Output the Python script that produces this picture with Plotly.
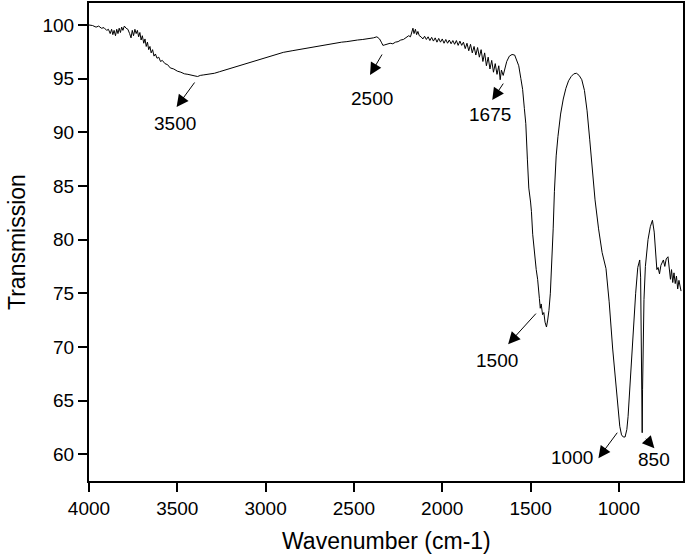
import plotly.graph_objects as go

wavenumber = [
    4000, 3980, 3960, 3945, 3930, 3915, 3900, 3890, 3880, 3872, 3865, 3858, 3850, 3843, 3836, 3829,
    3822, 3815, 3808, 3800, 3790, 3780, 3770, 3762, 3755, 3748, 3740, 3733, 3726, 3719, 3712, 3705,
    3698, 3690, 3683, 3676, 3669, 3662, 3655, 3648, 3640, 3632, 3624, 3615, 3605, 3595, 3585, 3570,
    3555, 3540, 3520, 3500, 3480, 3460, 3440, 3420, 3400, 3385, 3370, 3350, 3320, 3290, 3260, 3230,
    3200, 3160, 3120, 3080, 3040, 3000, 2950, 2900, 2850, 2800, 2750, 2700, 2650, 2600, 2570, 2540,
    2510, 2480, 2450, 2420, 2390, 2370, 2355, 2345, 2336, 2325, 2310, 2295, 2280, 2265, 2250, 2235,
    2220, 2205, 2190, 2180, 2172, 2166, 2160, 2152, 2145, 2138, 2130, 2120, 2110, 2100, 2090, 2080,
    2070, 2060, 2050, 2040, 2030, 2020, 2010, 2000, 1990, 1980, 1970, 1960, 1950, 1940, 1930, 1920,
    1910, 1900, 1890, 1880, 1870, 1860, 1850, 1840, 1830, 1820, 1810, 1800, 1790, 1780, 1770, 1760,
    1750, 1740, 1730, 1720, 1710, 1700, 1690, 1680, 1672, 1665, 1655, 1645, 1635, 1620, 1605, 1590,
    1578, 1567, 1555, 1545, 1535, 1527, 1518, 1510, 1500, 1495, 1488, 1482, 1475, 1468, 1460, 1455,
    1450, 1445, 1440, 1432, 1425, 1418, 1410, 1403, 1396, 1388, 1380, 1372, 1365, 1355, 1345, 1330,
    1315, 1300, 1285, 1270, 1255, 1240, 1225, 1210, 1195, 1180, 1165, 1150, 1135, 1115, 1095, 1073,
    1055, 1035, 1020, 1005, 995, 985, 975, 965, 955, 948, 935, 920, 905, 893, 882, 877,
    873, 870, 868, 866, 862, 858, 850, 835, 822, 810, 800, 792, 785, 778, 770, 762,
    755, 748, 740, 732, 722, 715, 708, 702, 695, 688, 681, 674, 667, 660, 652, 648,
]
transmission = [
    100.0, 99.95, 99.8, 99.9, 99.7, 99.75, 99.5, 99.6, 99.2, 99.6, 99.1, 99.5, 99.0, 99.6, 99.2, 99.7,
    99.3, 99.8, 99.5, 99.9, 99.7, 99.6, 99.2, 98.8, 99.5, 99.0, 99.6, 99.2, 99.5, 98.9, 99.3, 98.6,
    99.0, 98.3, 98.7, 98.0, 98.4, 97.7, 98.0, 97.4, 97.7, 97.1, 97.3, 96.9, 97.0, 96.6, 96.7, 96.4,
    96.3, 96.0, 95.9, 95.7, 95.6, 95.45, 95.4, 95.3, 95.25, 95.2, 95.3, 95.35, 95.4, 95.5, 95.65, 95.8,
    95.95, 96.15, 96.4, 96.6, 96.8, 96.95, 97.25, 97.45, 97.6, 97.75, 97.9, 98.05, 98.2, 98.3, 98.4, 98.45,
    98.55, 98.6, 98.65, 98.7, 98.8, 98.9, 98.7, 98.4, 98.1, 98.15, 98.2, 98.3, 98.25, 98.4, 98.45, 98.6,
    98.65, 98.8, 99.0, 98.9, 99.3, 99.7, 99.2, 99.6, 99.1, 99.4, 99.0, 98.9, 98.7, 98.95, 98.65, 98.9,
    98.55, 98.85, 98.5, 98.8, 98.4, 98.75, 98.4, 98.7, 98.3, 98.65, 98.3, 98.6, 98.25, 98.55, 98.2, 98.55,
    98.1, 98.5, 98.1, 98.4, 97.8, 98.3, 97.6, 98.2, 97.4, 98.0, 97.2, 97.9, 97.0, 97.7, 96.6, 97.4,
    96.2, 97.0, 95.9, 96.7, 95.6, 96.4, 95.4, 96.2, 94.9, 95.8, 95.3, 96.1, 96.6, 97.1, 97.25, 97.2,
    96.7, 96.2, 95.0, 94.0, 92.2, 90.8, 87.5, 84.8, 83.5, 82.6, 80.5, 79.3, 78.6, 77.2, 76.3, 75.0,
    74.5, 73.6, 74.0, 73.0, 73.2, 72.3, 71.85, 72.5, 73.4, 75.0, 77.4, 81.0, 84.5, 87.8, 89.6, 91.7,
    93.1, 94.1, 94.8, 95.2, 95.45, 95.5, 95.3, 94.9, 93.9, 92.0, 89.3, 86.5, 83.7, 81.0, 78.8, 77.3,
    74.2, 69.8, 67.0, 64.5, 62.6, 61.8, 61.6, 61.6, 62.3, 63.5, 67.0, 71.3, 75.0, 77.4, 78.1, 76.5,
    70.0, 63.0, 62.0, 66.0, 71.0, 74.4, 77.5, 80.0, 81.2, 81.8, 80.7, 78.5, 77.2, 77.4, 76.8, 77.6,
    77.9, 78.1, 77.5, 78.2, 78.4, 77.5, 76.3, 77.2, 76.0, 76.9, 75.9, 76.6, 75.4, 76.2, 75.5, 75.2,
]

x_ticks = [4000, 3500, 3000, 2500, 2000, 1500, 1000]
y_ticks = [60, 65, 70, 75, 80, 85, 90, 95, 100]

band_labels = ["3500", "2500", "1675", "1500", "1000", "850"]
x_title = "Wavenumber (cm-1)"
y_title = "Transmission"

FONT = "Liberation Sans, Arial, sans-serif"

fig = go.Figure()
fig.add_trace(go.Scatter(
    x=wavenumber, y=transmission, mode="lines",
    line=dict(color="black", width=1), showlegend=False, hoverinfo="skip",
))

# arrow tails (near the curve), arrow heads, text centres  (data coordinates)
arrow_geom = [
    ((3396, 94.78), (3504, 92.35), (3515, 90.86)),
    ((2336, 97.39), (2409, 95.34), (2398, 93.19)),
    ((1649, 94.68), (1717, 93.0), (1729, 91.7)),
    ((1462, 73.24), (1627, 70.25), (1689, 68.7)),
    ((1003, 62.14), (1116, 59.63), (1264, 59.7)),
    ((855, 61.58), (799, 60.56), (804, 59.53)),
]

annotations = []
for label, (tail, head, txt) in zip(band_labels, arrow_geom):
    annotations.append(dict(
        x=head[0], y=head[1], ax=tail[0], ay=tail[1], xref="x", yref="y",
        axref="x", ayref="y", text="", showarrow=True, arrowhead=2,
        arrowsize=2.4, arrowwidth=1, arrowcolor="black", standoff=0,
    ))
    annotations.append(dict(
        x=txt[0], y=txt[1], xref="x", yref="y", text=label, showarrow=False,
        font=dict(family=FONT, size=19, color="black"),
        xanchor="center", yanchor="middle",
    ))

annotations.append(dict(
    x=0.5, y=-0.1255, xref="paper", yref="paper", text=x_title, showarrow=False,
    font=dict(family=FONT, size=23, color="black"), xanchor="center", yanchor="middle",
))
annotations.append(dict(
    x=-0.1212, y=0.5, xref="paper", yref="paper", text=y_title, showarrow=False,
    textangle=-90, font=dict(family=FONT, size=23, color="black"),
    xanchor="center", yanchor="middle",
))

fig.update_layout(
    width=685, height=559,
    margin=dict(l=89, r=2, t=3, b=78),
    paper_bgcolor="white", plot_bgcolor="white",
    font=dict(family=FONT, size=19, color="black"),
    annotations=annotations,
    hovermode=False,
    xaxis=dict(
        range=[4000, 637], tickvals=x_ticks, ticktext=[str(v) for v in x_ticks],
        ticks="outside", ticklen=9, tickwidth=1.5, tickcolor="black",
        showline=True, linecolor="black", linewidth=2, mirror=True,
        showgrid=False, zeroline=False, automargin=False, fixedrange=True,
        tickfont=dict(family=FONT, size=19, color="black"),
    ),
    yaxis=dict(
        range=[57.5, 102.05], tickvals=y_ticks, ticktext=[str(v) for v in y_ticks],
        ticks="outside", ticklen=9, tickwidth=1.5, tickcolor="black",
        showline=True, linecolor="black", linewidth=2, mirror=True,
        showgrid=False, zeroline=False, automargin=False, fixedrange=True,
        tickfont=dict(family=FONT, size=19, color="black"),
    ),
)

fig.write_html(
    "out.html",
    config={"displayModeBar": False},
    post_script="document.body.style.margin='0';",
)
